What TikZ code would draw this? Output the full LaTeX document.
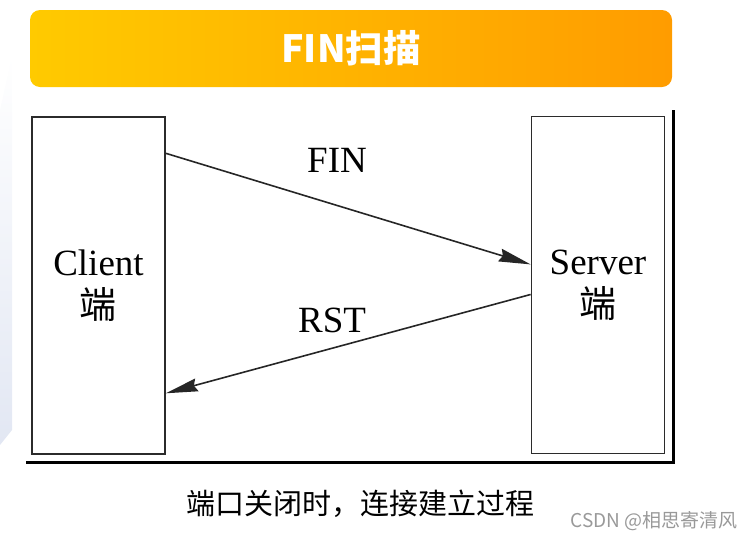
\documentclass[tikz,border=0pt]{standalone}
\usepackage{fontspec}
\setmainfont{Liberation Serif}
\newfontfamily\cjk{Noto Sans CJK SC}
\usetikzlibrary{arrows.meta}

\definecolor{banA}{HTML}{FFCA00}
\definecolor{banB}{HTML}{FF9C00}
\definecolor{edgeblue}{HTML}{E2E7F3}
\definecolor{inkgray}{HTML}{2B2B2B}

\begin{document}
\begin{tikzpicture}
	 [x=1pt,y=-1pt,every node/.style={inner sep=0pt,align=center},
	  host/.style={draw=inkgray,line width=1.7pt,minimum width=133pt,minimum height=337pt,font=\fontsize{37}{43}\selectfont},
	  msg/.style={draw=black!85,line width=1.6pt,-{Stealth[length=32pt,width=13pt,inset=3pt]}},
	  lbl/.style={font=\fontsize{37}{43}\selectfont}]
	\useasboundingbox (0,0) rectangle (753,539);

%	\node at (0,0) {};
	\shade[top color=white,bottom color=edgeblue] (0,110) -- (12,55) -- (12,430) -- (0,445) -- cycle;

	\shade[rounded corners=10pt,left color=banA,right color=banB] (30,10) rectangle (672,87);
	  \node (title)[text=white] at (351,48) {\cjk\bfseries\fontsize{37.5}{42}\selectfont FIN扫描};

	\draw[line width=3pt] (26,462) -- (673,462) -- (673,110);

	  \node (client)[host] at (98.5,285.5) {Client\\{\cjk 端}};
	  \node (server)[host] at (598,285) {Server\\{\cjk 端}};

	  \node (fin)[lbl] at (337,160) {FIN};
	  \node (rst)[lbl] at (332,320) {RST};

	\foreach \from/\to in {client.63/server.163,server.188/client.-58}
    \draw[msg] (\from) -- (\to);

	  \node (caption) at (360,504) {\cjk\fontsize{29}{33}\selectfont 端口关闭时，连接建立过程};
	  \node (mark)[text=black!40] at (654,521) {\cjk\fontsize{19}{21}\selectfont CSDN @相思寄清风};

\end{tikzpicture}
\end{document}
